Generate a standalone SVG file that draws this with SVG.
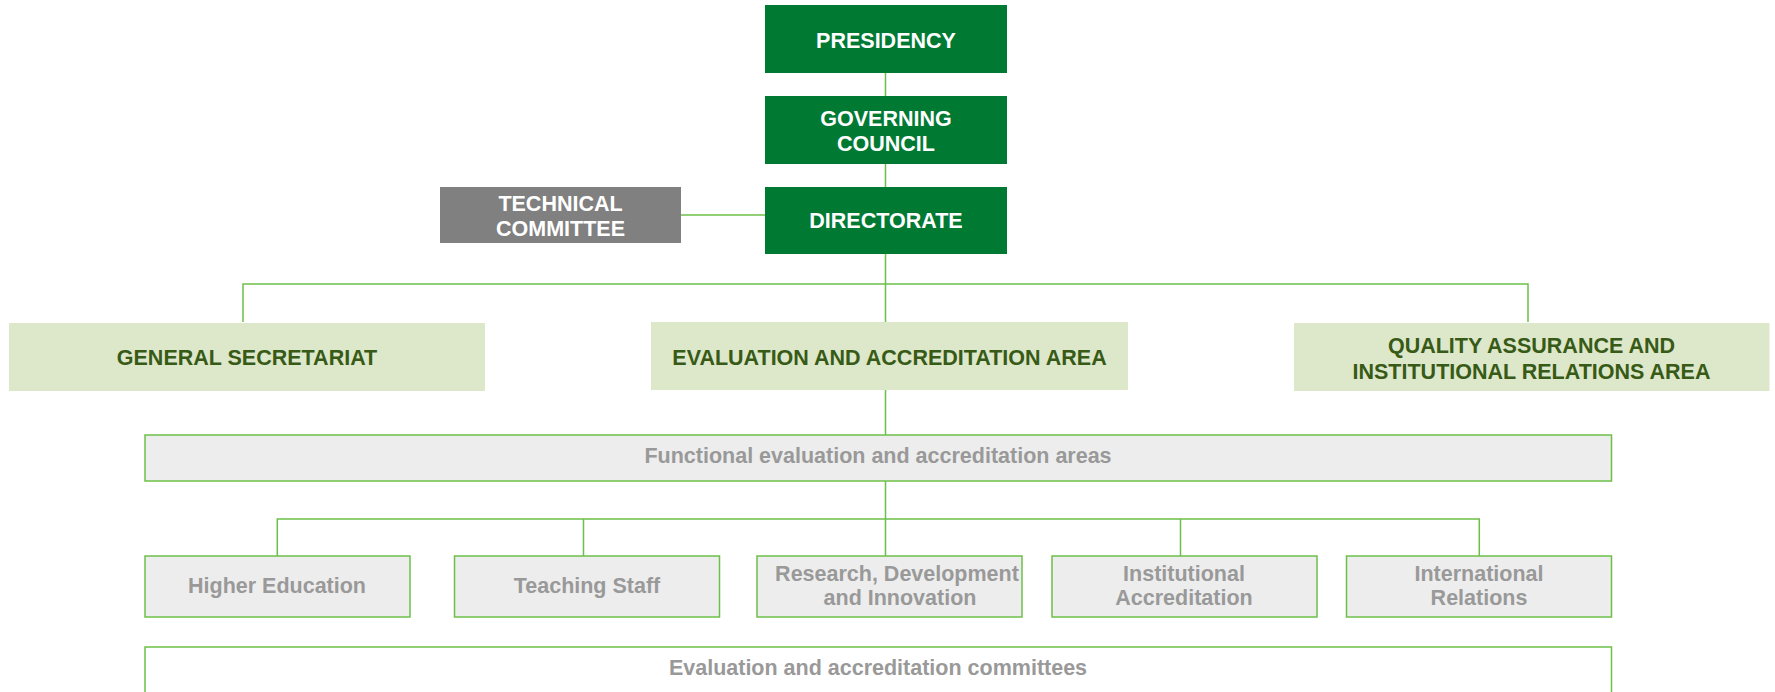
<svg xmlns="http://www.w3.org/2000/svg" width="1775" height="692" viewBox="0 0 1775 692">
<style>
.dk{fill:#007a33}
.gr{fill:#808080}
.lg{fill:#dde7ca}
.fb{fill:#ededed;stroke:#6cc04a;stroke-width:1.5}
.w{font-family:"Liberation Sans",Arial,sans-serif;font-weight:bold;font-size:21.5px;fill:#ffffff;text-anchor:middle}
.g{font-family:"Liberation Sans",Arial,sans-serif;font-weight:bold;font-size:21.5px;fill:#375a16;text-anchor:middle}
.s{font-family:"Liberation Sans",Arial,sans-serif;font-weight:bold;font-size:21.5px;fill:#999999;text-anchor:middle}
.c{stroke:#6cc04a;stroke-width:1.5;fill:none}
</style>
<g id="connectors" class="c">
<path d="M885.5 73V96M885.5 164V187M885.5 254V322"/>
<path d="M681 215H765"/>
<path d="M243 322V284H1528V322"/>
<path d="M885.5 390V435M885.5 481V556"/>
<path d="M277.3 556V519H1479.3V556M583.5 519V556M1180.5 519V556"/>
</g>
<g id="presidency"><rect class="dk" x="765" y="5" width="242" height="68"/><text class="w" x="886" y="48">PRESIDENCY</text></g>
<g id="governing-council"><rect class="dk" x="765" y="96" width="242" height="68"/><text class="w" x="886" y="125.5">GOVERNING</text><text class="w" x="886" y="150.5">COUNCIL</text></g>
<g id="directorate"><rect class="dk" x="765" y="187" width="242" height="67"/><text class="w" x="886" y="228">DIRECTORATE</text></g>
<g id="technical-committee"><rect class="gr" x="440" y="187" width="241" height="56"/><text class="w" x="560.5" y="210.5">TECHNICAL</text><text class="w" x="560.5" y="236">COMMITTEE</text></g>
<g id="general-secretariat"><rect class="lg" x="9" y="323" width="476" height="68"/><text class="g" x="247" y="364.5">GENERAL SECRETARIAT</text></g>
<g id="evaluation-area"><rect class="lg" x="651" y="322" width="477" height="68"/><text class="g" x="889.5" y="364.5">EVALUATION AND ACCREDITATION AREA</text></g>
<g id="quality-area"><rect class="lg" x="1294" y="323" width="475.5" height="68"/><text class="g" x="1531.5" y="353">QUALITY ASSURANCE AND</text><text class="g" x="1531.5" y="379">INSTITUTIONAL RELATIONS AREA</text></g>
<g id="functional-areas"><rect class="fb" x="145" y="435" width="1466.5" height="46"/><text class="s" x="878" y="463">Functional evaluation and accreditation areas</text></g>
<g id="higher-education"><rect class="fb" x="145" y="556" width="265" height="61"/><text class="s" x="277" y="593">Higher Education</text></g>
<g id="teaching-staff"><rect class="fb" x="454.5" y="556" width="265" height="61"/><text class="s" x="587" y="593">Teaching Staff</text></g>
<g id="rdi"><rect class="fb" x="757" y="556" width="265" height="61"/><text class="s" x="897" y="581">Research, Development</text><text class="s" x="900" y="605">and Innovation</text></g>
<g id="institutional-accreditation"><rect class="fb" x="1052" y="556" width="265" height="61"/><text class="s" x="1184" y="581">Institutional</text><text class="s" x="1184" y="605">Accreditation</text></g>
<g id="international-relations"><rect class="fb" x="1346.5" y="556" width="265" height="61"/><text class="s" x="1479" y="581">International</text><text class="s" x="1479" y="605">Relations</text></g>
<g id="committees"><rect x="145" y="647" width="1466.5" height="60" fill="#ffffff" stroke="#6cc04a" stroke-width="1.5"/><text class="s" x="878" y="675">Evaluation and accreditation committees</text></g>
</svg>
